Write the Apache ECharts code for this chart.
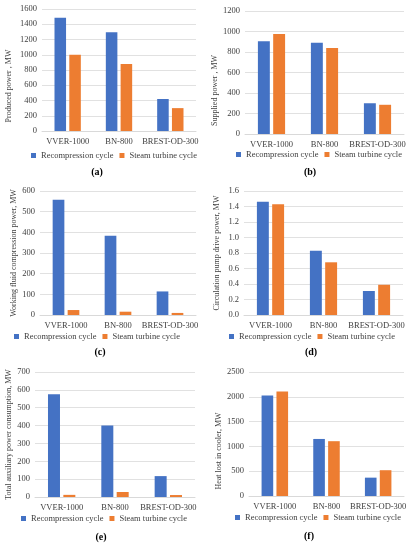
<!DOCTYPE html>
<html><head><meta charset="utf-8">
<script src="https://cdn.jsdelivr.net/npm/echarts@6/dist/echarts.min.js"></script>
<style>html,body{margin:0;padding:0;background:#fff}#c{width:414px;height:550px}</style>
</head><body><div id="c"></div>
<script>
const categories = ['VVER-1000', 'BN-800', 'BREST-OD-300'];
const seriesNames = ['Recompression cycle', 'Steam turbine cycle'];

const producedRecomp = [1485, 1295, 420];
const producedSteam = [1000, 880, 300];
const suppliedRecomp = [905, 890, 300];
const suppliedSteam = [975, 840, 285];
const compressionRecomp = [558, 383, 114];
const compressionSteam = [24, 16, 10];
const pumpRecomp = [1.46, 0.83, 0.31];
const pumpSteam = [1.43, 0.68, 0.39];
const auxRecomp = [575, 400, 117];
const auxSteam = [12, 28, 11];
const coolerRecomp = [2025, 1150, 370];
const coolerSteam = [2105, 1105, 520];

const axisTitles = ['Produced power , MW', 'Supplied power , MW', 'Working fluid compression power, MW',
  'Circulation pump drive power, MW', 'Total auxiliary power consumption, MW', 'Heat lost in cooler, MW'];
const panelLabels = ['(a)', '(b)', '(c)', '(d)', '(e)', '(f)'];
const yMax = [1600, 1200, 600, 1.6, 700, 2500];
const yInterval = [200, 200, 100, 0.2, 100, 500];
const panelData = [
  [producedRecomp, producedSteam], [suppliedRecomp, suppliedSteam],
  [compressionRecomp, compressionSteam], [pumpRecomp, pumpSteam],
  [auxRecomp, auxSteam], [coolerRecomp, coolerSteam]
];

// layout (pixels)
const grids = [
  {left: 42, top: 9, width: 154, height: 122},
  {left: 245, top: 11, width: 159, height: 123},
  {left: 40, top: 191, width: 156, height: 124},
  {left: 244, top: 191, width: 159, height: 124},
  {left: 35, top: 372, width: 160, height: 125},
  {left: 249, top: 372, width: 155, height: 124}
];
const nameGaps = [29, 24, 21, 23, 18, 24];
const nameShift = [32, 36, 0, 0, 0, 34];
const legendPos = [{left: 31, top: 151}, {left: 236, top: 150}, {left: 14, top: 332}, {left: 229, top: 332}, {left: 21, top: 514}, {left: 235, top: 513}];
const labelPos = [{left: 97, top: 167}, {left: 310, top: 167}, {left: 100, top: 347}, {left: 311, top: 347}, {left: 101, top: 532}, {left: 309, top: 531}];

const FONT = 'Liberation Serif';
const colors = ['#4472C4', '#ED7D31'];

const option = {
  animation: false,
  textStyle: {fontFamily: FONT},
  grid: grids.map(g => Object.assign({containLabel: false}, g)),
  xAxis: grids.map((g, i) => ({
    type: 'category', gridIndex: i, data: categories,
    axisLine: {lineStyle: {color: '#D9D9D9'}}, axisTick: {show: false},
    axisLabel: {color: '#404040', fontSize: 8.5, fontFamily: FONT, margin: 6, interval: 0}
  })),
  yAxis: grids.map((g, i) => ({
    type: 'value', gridIndex: i, min: 0, max: yMax[i], interval: yInterval[i],
    axisLine: {show: false}, axisTick: {show: false},
    splitLine: {lineStyle: {color: '#D9D9D9', width: 0.8}},
    axisLabel: {color: '#404040', fontSize: 8.5, fontFamily: FONT, margin: 5,
      formatter: i === 3 ? (v => v.toFixed(1)) : (v => String(v))},
    name: axisTitles[i], nameLocation: 'middle', nameGap: nameGaps[i],
    nameTextStyle: {color: '#404040', fontSize: 8, fontFamily: FONT, padding: [0, nameShift[i], 0, 0]}
  })),
  legend: legendPos.map(p => ({
    data: seriesNames, left: p.left, top: p.top, itemWidth: 5, itemHeight: 5, itemGap: 6,
    icon: 'rect', padding: 0,
    textStyle: {color: '#404040', fontSize: 8.5, fontFamily: FONT}
  })),
  title: labelPos.map((p, i) => ({
    text: panelLabels[i], left: p.left, top: p.top, textAlign: 'center', padding: 0,
    textStyle: {color: '#000', fontSize: 10, fontWeight: 'bold', fontFamily: FONT}
  })),
  series: []
};
panelData.forEach((pair, i) => {
  pair.forEach((vals, k) => {
    option.series.push({
      type: 'bar', name: seriesNames[k], xAxisIndex: i, yAxisIndex: i, data: vals,
      barWidth: '22.5%', barGap: '28%', itemStyle: {color: colors[k]}
    });
  });
});
const chart = echarts.init(document.getElementById('c'), null, {renderer: 'canvas'});
chart.setOption(option);
</script></body></html>
